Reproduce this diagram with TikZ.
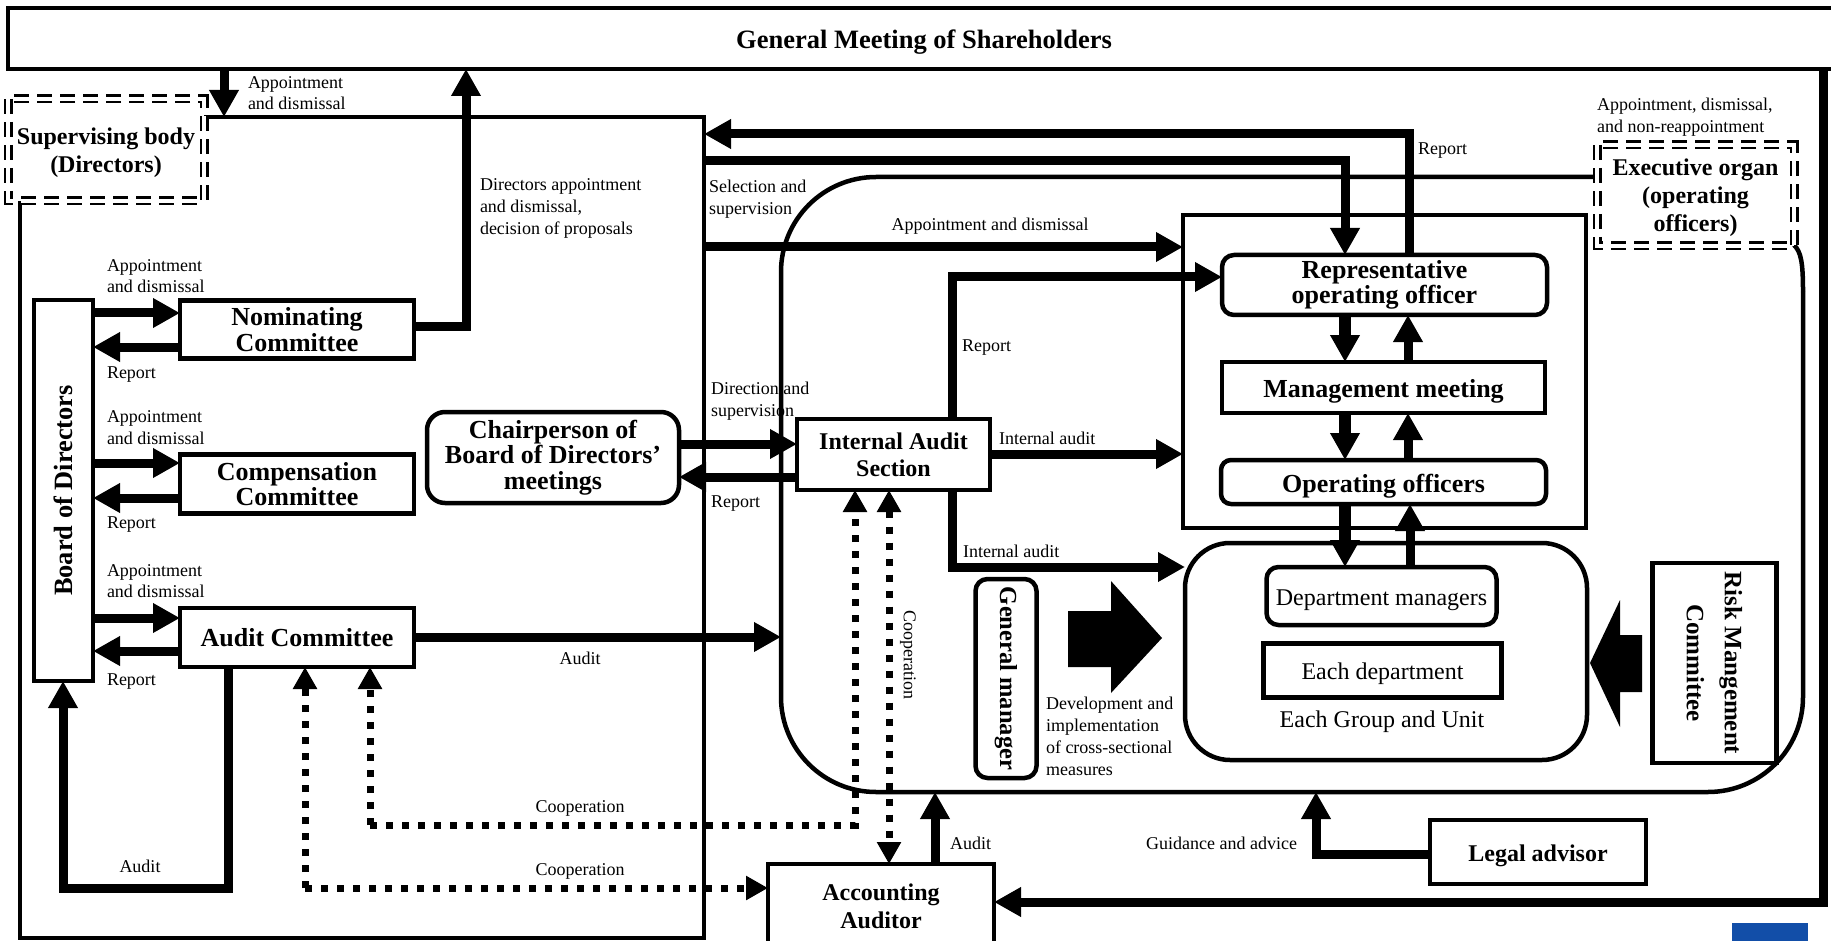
\documentclass[tikz,border=0pt]{standalone}
\usepackage{fontspec}
\setmainfont{Liberation Serif}
\usetikzlibrary{arrows.meta}
\definecolor{logoblue}{RGB}{18,78,168}
\begin{document}
\begin{tikzpicture}[x=1pt,y=-1pt,
  box/.style={draw, line width=4.5pt, fill=white, inner sep=0pt, outer sep=0pt, align=center},
  rbox/.style={box, rounded corners=12pt},
  bt/.style={font=\fontsize{26}{25.5}\selectfont\bfseries},
  bs/.style={font=\fontsize{24}{28}\selectfont\bfseries},
  rt/.style={font=\fontsize{24}{28}\selectfont},
  lowbig/.style={text height=20pt, text depth=0pt},
  lowsmall/.style={text height=18.5pt, text depth=0pt},
  lbl/.style={font=\fontsize{18}{21.5}\selectfont, inner sep=0pt, outer sep=0pt, align=left},
  conn/.style={line width=9pt, -{Triangle[width=28pt,length=27pt]}},
  dots/.style={line width=7pt, dash pattern=on 7pt off 9pt},
  dtip/.style={-{Triangle[width=23pt,length=22pt]}},
  ddash/.style={line width=2.5pt, double distance=4pt, dash pattern=on 15pt off 8pt}
]
\useasboundingbox (0,0) rectangle (1831,941);
\fill[white] (0,0) rectangle (1831,941);
\clip (0,0) rectangle (1831,941);

% regions
\draw[line width=4.5pt, rounded corners=95pt] (1597,177) -- (781,177) -- (781,792) -- (1803,792) -- (1803,292);
\draw[line width=4.5pt] (1803,292) .. controls (1803,262) and (1801,252) .. (1794,245);
\draw[line width=4.5pt] (204,117) -- (704,117) -- (704,938) -- (20,938) -- (20,201);
\fill[logoblue] (1732,923) rectangle (1808,950);

% nodes
\node[box, font=\fontsize{26.5}{26}\selectfont\bfseries, text height=20.5pt, text depth=0pt, minimum width=1832pt, minimum height=61pt] (gms) at (924,38.5) {General Meeting of Shareholders};

\node[box, draw=none, fill=none, bs, minimum width=196pt, minimum height=102pt] (sup) at (106,153) {Supervising body\\(Directors)};
\draw[ddash] (8,99) rectangle (204,201);

\fill[white] (1597,145) rectangle (1794,246);
\node[box, draw=none, fill=none, bs, minimum width=196pt, minimum height=100pt] (exo) at (1695.5,198) {Executive organ\\(operating\\officers)};
\draw[ddash] (1597,145) rectangle (1794,246);

\node[box, minimum width=59pt, minimum height=381pt] (bod) at (63.5,490.5) {};
\node[bt, font=\fontsize{26.4}{26}\selectfont\bfseries, rotate=90] (bodt) at (bod) {Board of Directors};

\node[box, bt, minimum width=234pt, minimum height=58pt] (nom) at (297,329.5) {Nominating\\Committee};
\node[box, bt, minimum width=234pt, minimum height=59pt] (comp) at (297,484) {Compensation\\Committee};
\node[box, bt, minimum width=234pt, minimum height=59pt] (audc) at (297,637.5) {Audit Committee};

\node[rbox, rounded corners=18pt, bt, minimum width=252pt, minimum height=91pt] (chair) at (553,457.5) {Chairperson of\\Board of Directors’\\meetings};

\node[box, font=\fontsize{24}{27}\selectfont\bfseries, minimum width=193pt, minimum height=71pt] (ias) at (893.5,454.5) {Internal Audit\\Section};

\node[box, fill=none, minimum width=403pt, minimum height=313pt] (offb) at (1384.5,371.5) {};
\node[rbox, bt, minimum width=325pt, minimum height=60pt] (rep) at (1384.5,285) {Representative\\operating officer};
\node[box, bt, lowbig, minimum width=323pt, minimum height=51pt] (mm) at (1383.5,387.5) {Management meeting};
\node[rbox, rounded corners=10pt, bt, lowbig, minimum width=325pt, minimum height=44pt] (oo) at (1383.5,482) {Operating officers};

\node[rbox, rounded corners=45pt, minimum width=402pt, minimum height=217pt] (grp) at (1386,651.5) {};
\node[rbox, rt, lowsmall, minimum width=230pt, minimum height=58pt] (dm) at (1381.5,596) {Department managers};
\node[box, rt, lowsmall, minimum width=238pt, minimum height=54pt] (ed) at (1382.5,670.5) {Each department};
\node[rt, inner sep=0pt] (grpt) at (1382,722) {Each Group and Unit};

\node[box, fill=none, minimum width=124pt, minimum height=200pt] (rmc) at (1714.5,663) {};
\node[font=\fontsize{25}{38}\selectfont\bfseries, rotate=-90, align=center] (rmct) at (rmc) {Risk Mangement\\Committee};

\node[rbox, minimum width=61pt, minimum height=199pt] (gm) at (1006,678.5) {};
\node[font=\fontsize{24.5}{26}\selectfont\bfseries, rotate=-90] (gmt) at (gm) {General manager};

\node[box, bs, minimum width=226pt, minimum height=84pt] (aa) at (881,906) {Accounting\\Auditor};
\node[box, bs, lowsmall, minimum width=216pt, minimum height=64pt] (legal) at (1538,852) {Legal advisor};

% block arrows
\fill (1068,611) -- (1111,611) -- (1111,581) -- (1162,638) -- (1111,693) -- (1111,667) -- (1068,667) -- cycle;
\fill (1642,635) -- (1620,635) -- (1620,600) -- (1590,663) -- (1620,727) -- (1620,692) -- (1642,692) -- cycle;

% free-end coordinates on region borders
\coordinate (lrA) at (704,134);
\coordinate (lrB) at (704,161);
\coordinate (lrC) at (704,247);
\coordinate (lrTop) at (224,117);
\coordinate (exL) at (781,637);
\coordinate (exB1) at (935,792);
\coordinate (exB2) at (1316,792);

% connectors: board and committees
\draw[conn] (bod.east |- 0,313) -- (nom.west |- 0,313);
\draw[conn] (nom.west |- 0,347) -- (bod.east |- 0,347);
\draw[conn] (bod.east |- 0,463) -- (comp.west |- 0,463);
\draw[conn] (comp.west |- 0,498) -- (bod.east |- 0,498);
\draw[conn] (bod.east |- 0,618) -- (audc.west |- 0,618);
\draw[conn] (audc.west |- 0,651) -- (bod.east |- 0,651);

\node[lbl, anchor=west] (la1) at (107,276) {Appointment\\and dismissal};
\node[lbl, anchor=west] (lr1) at (107,375) {Report};
\node[lbl, anchor=west] (la2) at (107,427.5) {Appointment\\and dismissal};
\node[lbl, anchor=west] (lr2) at (107,525) {Report};
\node[lbl, anchor=west] (la3) at (107,581) {Appointment\\and dismissal};
\node[lbl, anchor=west] (lr3) at (107,682) {Report};

% top connectors
\draw[conn] (gms.south -| lrTop) -- (lrTop);
\node[lbl, anchor=west] (la0) at (248,93) {Appointment\\and dismissal};
\draw[conn] (nom.east |- 0,326) -- (466,326) -- (gms.south -| 466,0);
\node[lbl, anchor=west, font=\fontsize{18}{22}\selectfont] (ldir) at (480,208) {Directors appointment\\and dismissal,\\decision of proposals};

\draw[conn] (rep.north -| 1409,0) -- (1409,134) -- (lrA);
\node[lbl, anchor=west] (lrep) at (1418,151) {Report};
\draw[conn] (lrB) -- (1345,161) -- (rep.north -| 1345,0);
\node[lbl, anchor=west] (lsel) at (709,199) {Selection and\\supervision};
\draw[conn] (lrC) -- (offb.west |- lrC);
\node[lbl] (lapp) at (990,226) {Appointment and dismissal};
\node[lbl, anchor=west] (lexo) at (1597,117) {Appointment, dismissal,\\and non-reappointment};

% chair and internal audit
\draw[conn] (chair.east |- 0,444) -- (ias.west |- 0,444);
\draw[conn] (ias.west |- 0,477) -- (chair.east |- 0,477);
\node[lbl, anchor=west] (ldirsup) at (711,401) {Direction and\\supervision};
\node[lbl, anchor=west] (lrep2) at (711,504) {Report};

\draw[conn] (ias.north -| 952,0) -- (952,277) -- (rep.west |- 0,277);
\node[lbl, anchor=west] (lrep3) at (962,348) {Report};
\draw[conn] (ias.east |- 0,454) -- (offb.west |- 0,454);
\node[lbl, anchor=west] (lia1) at (999,438) {Internal audit};
\draw[conn] (ias.south -| 952,0) -- (952,567) -- (grp.west |- 0,567);
\node[lbl, anchor=west] (lia2) at (963,551) {Internal audit};

% audit committee
\draw[conn] (audc.east |- exL) -- (exL);
\node[lbl] (laud1) at (580,658) {Audit};
\draw[conn] (audc.south -| 228,0) -- (228,888) -- (63,888) -- (bod.south -| 63,0);
\node[lbl] (laud2) at (140,866) {Audit};

% officers chain
\draw[conn, line width=12pt] (rep.south -| 1345,0) -- (mm.north -| 1345,0);
\draw[conn] (mm.north -| 1408,0) -- (rep.south -| 1408,0);
\draw[conn, line width=12pt] (mm.south -| 1345,0) -- (oo.north -| 1345,0);
\draw[conn] (oo.north -| 1408,0) -- (mm.south -| 1408,0);
\draw[conn, line width=12pt] (oo.south -| 1345,0) -- (dm.north -| 1345,0);
\draw[conn] (dm.north -| 1410,0) -- (oo.south -| 1410,0);

% development label
\node[lbl, anchor=west, font=\fontsize{18}{22}\selectfont] (ldev) at (1046,736) {Development and\\implementation\\of cross-sectional\\measures};

% accounting auditor, legal advisor
\draw[conn] (aa.north -| exB1) -- (exB1);
\node[lbl, anchor=west] (laud3) at (950,843) {Audit};
\draw[conn] (legal.west |- 0,854) -- (1316,854) -- (exB2);
\node[lbl, anchor=east] (lguid) at (1297,843) {Guidance and advice};
\draw[conn] (gms.south -| 1823,0) -- (1823,902) -- (aa.east |- 0,902);

% cooperation (dotted)
\draw[dots, dtip] (305,888) -- (audc.south -| 305,0);
\draw[dots, dtip] (305,888) -- (aa.west |- 0,888);
\draw[dots, dtip] (370,825) -- (audc.south -| 370,0);
\draw[dots, dtip] (370,825) -- (855,825) -- (ias.south -| 855,0);
\draw[dots, {Triangle[width=23pt,length=22pt]}-{Triangle[width=23pt,length=22pt]}] (ias.south -| 889,0) -- (aa.north -| 889,0);
\node[lbl] (lco1) at (580,808) {Cooperation};
\node[lbl] (lco2) at (580,871) {Cooperation};
\node[lbl, rotate=-90] (lco3) at (908,655) {Cooperation};
\end{tikzpicture}
\end{document}
